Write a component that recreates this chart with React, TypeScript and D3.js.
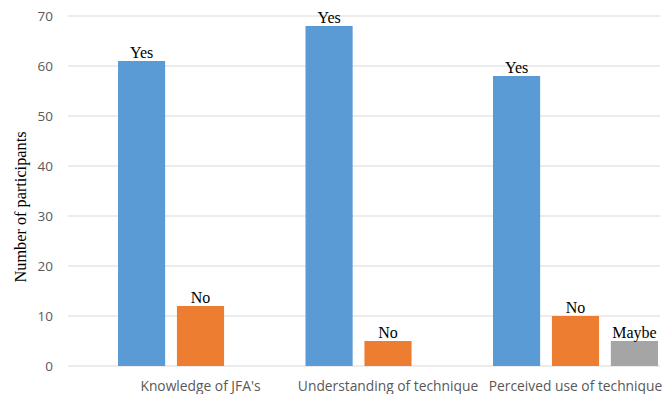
import React from "react";
import * as d3 from "d3";

const categories = ["Knowledge of JFA's", "Understanding of technique", "Perceived use of technique"];
const seriesNames = ["Yes", "No", "Maybe"];
const yesValues = [61, 68, 58];
const noValues = [12, 5, 10];
const maybeValues: (number | null)[] = [null, null, 5];
const yTicks = [0, 10, 20, 30, 40, 50, 60, 70];
const colors = ["#5B9BD5", "#ED7D31", "#A5A5A5"];

const W = 670;
const H = 394;

export default function App() {
  const series = [yesValues, noValues, maybeValues];
  const y = d3.scaleLinear().domain([0, 70]).range([366, 16]);
  const x0 = d3.scaleBand<string>().domain(categories).range([118, 658]).paddingInner(0.12).paddingOuter(0);
  const x1 = d3.scaleBand<string>().domain(seriesNames).range([0, x0.bandwidth()]).paddingInner(0.2).paddingOuter(0);
  const gridLeft = 68;
  const gridRight = 660;
  return (
    <svg width={W} height={H} style={{ position: "absolute", left: 0, top: 0, background: "#fff" }}>
      {yTicks.map((t) => (
        <g key={t}>
          <line x1={gridLeft} x2={gridRight} y1={y(t)} y2={y(t)} stroke="#D9D9D9" strokeWidth={1} />
          <text x={53} y={y(t)} dy="0.35em" textAnchor="end" fontFamily="'Open Sans', sans-serif" fontSize={13.5} fill="#595959">
            {t}
          </text>
        </g>
      ))}
      <text
        transform={`translate(26, ${(132 + 282) / 2}) rotate(-90)`}
        textAnchor="middle"
        fontFamily="'Liberation Serif', serif"
        fontSize={16.3}
        fill="#000"
      >
        Number of participants
      </text>
      {categories.map((c, ci) => (
        <g key={c} transform={`translate(${x0(c)},0)`}>
          {series.map((vals, si) => {
            const v = vals[ci];
            if (v == null) return null;
            const bx = x1(seriesNames[si])!;
            return (
              <g key={si}>
                <rect x={bx} y={y(v)} width={x1.bandwidth()} height={y(0) - y(v)} fill={colors[si]} />
                <text
                  x={bx + x1.bandwidth() / 2}
                  y={y(v) - 3}
                  textAnchor="middle"
                  fontFamily="'Liberation Serif', serif"
                  fontSize={16}
                  fill="#000"
                >
                  {seriesNames[si]}
                </text>
              </g>
            );
          })}
          <text
            x={x0.bandwidth() / 2}
            y={391}
            textAnchor="middle"
            fontFamily="'Open Sans', sans-serif"
            fontSize={13.8}
            fill="#595959"
          >
            {c}
          </text>
        </g>
      ))}
    </svg>
  );
}
